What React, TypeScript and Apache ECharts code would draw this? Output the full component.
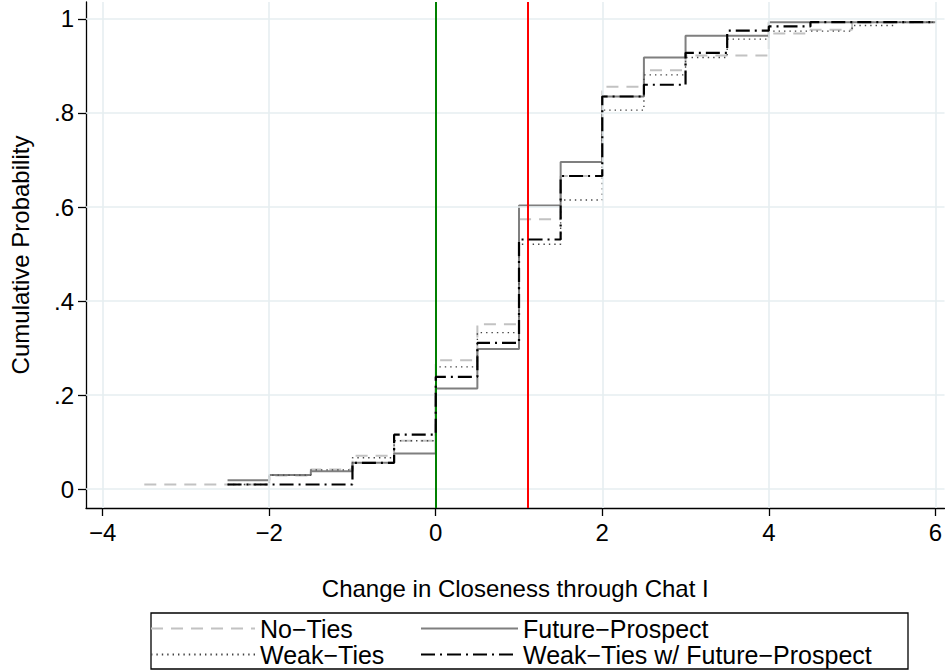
import React, { useEffect, useRef } from "react";
import * as echarts from "echarts";

// ---- Data ----
const xTicks = [-4, -2, 0, 2, 4, 6];
const yTicks = [0, 0.2, 0.4, 0.6, 0.8, 1];
const yTickLabels = ["0", ".2", ".4", ".6", ".8", "1"];

const noTiesX = [-3.5, -2, -1.5, -1, -0.5, 0, 0.5, 1, 1.5, 2, 2.5, 3, 4, 4.5, 5, 6];
const noTiesY = [0.01, 0.029, 0.042, 0.071, 0.103, 0.274, 0.351, 0.574, 0.666, 0.856, 0.891, 0.922, 0.969, 0.977, 0.993, 0.993];

const futureX = [-2.5, -2, -1.5, -1, -0.5, 0, 0.5, 1, 1.5, 2, 2.5, 3, 4, 6];
const futureY = [0.019, 0.03, 0.038, 0.056, 0.076, 0.214, 0.298, 0.603, 0.696, 0.835, 0.918, 0.964, 0.993, 0.993];

const weakX = [-2.5, -2, -1.5, -1, -0.5, 0, 0.5, 1, 1.5, 2, 2.5, 3, 3.5, 4, 5, 5.5, 6];
const weakY = [0.01, 0.03, 0.041, 0.067, 0.103, 0.26, 0.333, 0.521, 0.615, 0.806, 0.881, 0.918, 0.957, 0.974, 0.986, 0.993, 0.993];

const weakFutX = [-2.5, -1, -0.5, 0, 0.5, 1, 1.5, 2, 2.5, 3, 3.5, 4, 4.5, 6];
const weakFutY = [0.01, 0.056, 0.116, 0.239, 0.311, 0.531, 0.666, 0.835, 0.86, 0.928, 0.975, 0.984, 0.993, 0.993];

const refZero = 0;
const refMean = 1.11;

const seriesNames = ["No\u2212Ties", "Future\u2212Prospect", "Weak\u2212Ties", "Weak\u2212Ties w/ Future\u2212Prospect"];

const FONT = "'Liberation Sans', Arial, Helvetica, sans-serif";

const zip = (xs: number[], ys: number[]) => xs.map((x, i) => [x, ys[i]]);

export default function App() {
  const ref = useRef<HTMLDivElement>(null);
  useEffect(() => {
    if (!ref.current) return;
    const chart = echarts.init(ref.current, undefined, { renderer: "svg" });
    const fmtX = (v: number) => (v < 0 ? "\u2212" + Math.abs(v) : String(v));
    const fmtY = (v: number) => {
      const i = yTicks.findIndex((t) => Math.abs(t - v) < 1e-9);
      return i >= 0 ? yTickLabels[i] : "";
    };
    const legendCommon = {
      orient: "vertical",
      top: 616,
      padding: 0,
      itemGap: 1,
      itemHeight: 25,
      selectedMode: false,
      itemStyle: { opacity: 0, borderWidth: 0 },
      textStyle: { fontSize: 25, color: "#000", fontFamily: FONT, lineHeight: 25 },
    };
    const option: any = {
      animation: false,
      backgroundColor: "#ffffff",
      textStyle: { fontFamily: FONT },
      grid: { left: 83, right: 0, top: 2, bottom: 163 },
      xAxis: {
        type: "value",
        min: -4.2,
        max: 6.11,
        name: "Change in Closeness through Chat I",
        nameLocation: "middle",
        nameGap: 68,
        nameTextStyle: { fontSize: 24, color: "#000", fontFamily: FONT },
        axisLine: { show: true, onZero: false, lineStyle: { color: "#000", width: 1.3 } },
        axisTick: { show: true, length: 8, customValues: xTicks, lineStyle: { color: "#000", width: 1.3 } },
        axisLabel: { customValues: xTicks, formatter: fmtX, fontSize: 24, color: "#000", margin: 12, fontFamily: FONT },
        splitLine: { show: false },
      },
      yAxis: {
        type: "value",
        min: -0.04,
        max: 1.036,
        name: "Cumulative Probability",
        nameLocation: "middle",
        nameGap: 54,
        nameRotate: 90,
        nameTextStyle: { fontSize: 24, color: "#000", fontFamily: FONT },
        axisLine: { show: true, onZero: false, lineStyle: { color: "#000", width: 1.3 } },
        axisTick: { show: true, length: 8, customValues: yTicks, lineStyle: { color: "#000", width: 1.3 } },
        axisLabel: { customValues: yTicks, formatter: fmtY, fontSize: 24, color: "#000", margin: 12, fontFamily: FONT },
        splitLine: { show: false },
      },
      legend: [
        { ...legendCommon, left: 150, itemWidth: 104, data: [seriesNames[0], seriesNames[2]] },
        { ...legendCommon, left: 420, itemWidth: 97, data: [seriesNames[1], seriesNames[3]] },
      ],
      graphic: [
        {
          type: "rect",
          shape: { x: 151, y: 613, width: 757, height: 56 },
          style: { fill: "none", stroke: "#000", lineWidth: 1.3 },
          silent: true,
        },
      ],
      series: [
        {
          type: "line",
          name: "grid",
          data: [],
          z: 0,
          silent: true,
          markLine: {
            silent: true,
            symbol: ["none", "none"],
            label: { show: false },
            lineStyle: { color: "#e6eef1", width: 1.6, type: "solid" },
            data: [...xTicks.map((v) => ({ xAxis: v })), ...yTicks.map((v) => ({ yAxis: v }))],
          },
        },
        {
          type: "line",
          name: seriesNames[0],
          data: zip(noTiesX, noTiesY),
          step: "end",
          symbol: "none",
          z: 2,
          lineStyle: { color: "#c2c2c2", width: 2, type: [12, 8] },
          itemStyle: { color: "#c2c2c2" },
        },
        {
          type: "line",
          name: seriesNames[1],
          data: zip(futureX, futureY),
          step: "end",
          symbol: "none",
          z: 3,
          lineStyle: { color: "#7f7f7f", width: 2, type: "solid" },
          itemStyle: { color: "#7f7f7f" },
        },
        {
          type: "line",
          name: seriesNames[2],
          data: zip(weakX, weakY),
          step: "end",
          symbol: "none",
          z: 4,
          lineStyle: { color: "#444444", width: 1.4, type: [1.4, 4] },
          itemStyle: { color: "#444444" },
        },
        {
          type: "line",
          name: seriesNames[3],
          data: zip(weakFutX, weakFutY),
          step: "end",
          symbol: "none",
          z: 5,
          lineStyle: { color: "#000000", width: 2.2, type: [14, 5, 2, 5] },
          itemStyle: { color: "#000000" },
        },
        {
          type: "line",
          name: "ref",
          data: [],
          z: 6,
          silent: true,
          markLine: {
            silent: true,
            symbol: ["none", "none"],
            label: { show: false },
            data: [
              { xAxis: refZero, lineStyle: { color: "#008000", width: 2, type: "solid" } },
              { xAxis: refMean, lineStyle: { color: "#ff0000", width: 2, type: "solid" } },
            ],
          },
        },
      ],
    };
    chart.setOption(option);
    return () => chart.dispose();
  }, []);
  return (
    <div
      ref={ref}
      style={{ position: "fixed", left: 0, top: 0, width: 945, height: 671, background: "#fff" }}
    />
  );
}
